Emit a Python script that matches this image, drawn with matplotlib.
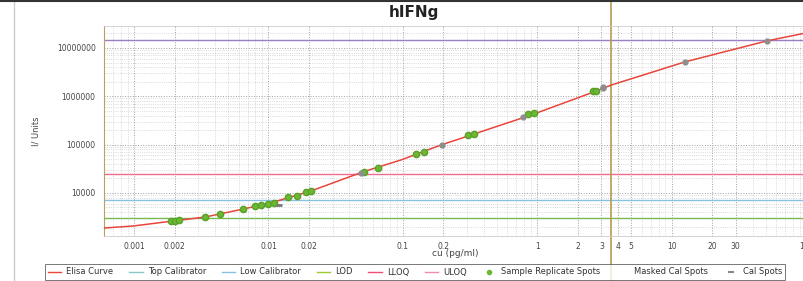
import matplotlib
matplotlib.use('Agg')
import matplotlib.pyplot as plt
from matplotlib.lines import Line2D

# fitted elisa curve
curve_x = [0.000597, 0.000984, 0.00195, 0.00339, 0.0065, 0.01035, 0.0206, 0.0502,
           0.0966, 0.192, 0.322, 0.902, 2.76, 3.56, 12.5, 51.2, 100.0]
curve_y = [1875, 2065, 2620, 3170, 4640, 6180, 10900, 27100,
           48000, 98000, 158000, 410000, 1290000, 1710000, 5130000, 14000000, 20500000]

# sample replicate spots
sample_x = [0.00187, 0.0020, 0.00216, 0.00339, 0.00437, 0.0065, 0.0080, 0.0088, 0.0099, 0.0110,
            0.0139, 0.0163, 0.0190, 0.0206, 0.051, 0.065, 0.125, 0.143, 0.305, 0.339,
            0.857, 0.95, 2.62, 2.76]
sample_y = [2600, 2650, 2750, 3170, 3660, 4640, 5360, 5700, 5900, 6100,
            8200, 8600, 10600, 10900, 27000, 32800, 63800, 70300, 158000, 162000,
            431000, 450000, 1290000, 1300000]

# calibrator spots
cal_x = [0.0486, 0.195, 0.786, 3.11, 3.11, 12.5, 51.2]
cal_y = [25800, 98000, 372000, 1560000, 1450000, 5130000, 14000000]
masked_x = [0.0119]
masked_y = [5600]

# horizontal limits
uloq = 14500000
lloq = 24600
low_cal = 7130
lod = 3020
marker_x = 3.56

xticks = [0.001, 0.002, 0.01, 0.02, 0.1, 0.2, 1, 2, 3, 4, 5, 10, 20, 30, 100]
xtick_labels = ['0.001', '0.002', '0.01', '0.02', '0.1', '0.2', '1', '2', '3', '4', '5',
                '10', '20', '30', '100']
yticks = [10000, 100000, 1000000, 10000000]
ytick_labels = ['10000', '100000', '1000000', '10000000']

fig = plt.figure(figsize=(8.04, 2.81), dpi=100)
ax = fig.add_axes([104 / 804, 45 / 281, 702 / 804, 210 / 281])
ax.set_xscale('log')
ax.set_yscale('log')
ax.set_xlim(0.000597, 100.0)
ax.set_ylim(1282, 2.85e7)

ax.grid(which='major', linestyle=':', color='#a0a0a0', linewidth=0.7)
ax.grid(which='minor', linestyle=':', color='#cdcdcd', linewidth=0.6)

ax.axhline(uloq, color='#9a7fc4', lw=1)
ax.axhline(lloq, color='#ee6a8e', lw=1)
ax.axhline(low_cal, color='#86c3e2', lw=1)
ax.axhline(lod, color='#78b84e', lw=1)
ax.axvline(ax.get_xlim()[0], color='#b8a060', lw=1.2)
ax.axvline(marker_x, ymin=-0.22, ymax=1.13, color='#b89a50', lw=1.2, clip_on=False)

ax.plot(curve_x, curve_y, color='#e8453c', lw=1.1, zorder=3)
ax.plot(sample_x, sample_y, 'o', color='#6cb834', mec='#58a028', ms=4.5, zorder=4)
ax.plot(cal_x, cal_y, 'o', color='#8e8e8e', ms=3.5, zorder=5)
ax.plot(masked_x, masked_y, '_', color='#777777', ms=5, mew=2, zorder=5)

ax.set_xticks(xticks)
ax.set_xticklabels(xtick_labels)
ax.set_yticks(yticks)
ax.set_yticklabels(ytick_labels)
ax.minorticks_on()
ax.tick_params(which='both', length=0, labelsize=5.5, colors='#444444', pad=4)
ax.tick_params(axis='y', pad=6)
ax.tick_params(axis='x', which='minor', labelbottom=False)
ax.tick_params(axis='y', which='minor', labelleft=False)
ax.set_xlabel('cu (pg/ml)', fontsize=6.5, color='#444444', labelpad=-1)
ax.set_ylabel('I/ Units', fontsize=6, color='#444444', labelpad=12)

for side in ['top', 'right', 'bottom']:
    ax.spines[side].set_color('#cccccc')
    ax.spines[side].set_linewidth(0.6)
ax.spines['left'].set_color('#b8a060')

fig.text(414 / 804, 1 - 12 / 281, 'hIFNg', ha='center', va='center',
         fontsize=11, fontweight='bold', color='#222222')

# frame bits of the screenshot
fig.add_artist(Line2D([14 / 804, 14 / 804], [0, 1], transform=fig.transFigure,
                      color='#cccccc', lw=1))
fig.add_artist(Line2D([0, 1], [0.997, 0.997], transform=fig.transFigure,
                      color='#333333', lw=1.5))

handles = [
    Line2D([], [], color='#e8453c', lw=1),
    Line2D([], [], color='#8cc6c6', lw=1),
    Line2D([], [], color='#86c3e2', lw=1),
    Line2D([], [], color='#9acd32', lw=1),
    Line2D([], [], color='#ee4f7a', lw=1),
    Line2D([], [], color='#f08aa8', lw=1),
    Line2D([], [], ls='none', marker='o', color='#6cb834', ms=3),
    Line2D([], [], ls='none', marker='none'),
    Line2D([], [], ls='none', marker='_', color='#888888', ms=4, mew=1.5),
]
labels = ['Elisa Curve', 'Top Calibrator', 'Low Calibrator', 'LOD', 'LLOQ', 'ULOQ',
          'Sample Replicate Spots', 'Masked Cal Spots', 'Cal Spots']
leg = fig.legend(handles, labels, loc='center', bbox_to_anchor=(415 / 804, 1 - 272 / 281),
                 ncol=9, fontsize=6, frameon=True, fancybox=False, edgecolor='#555555',
                 handlelength=1.6, handletextpad=0.6, columnspacing=1.9,
                 borderpad=0.4, labelcolor='#333333')
leg.get_frame().set_linewidth(0.7)

fig.savefig('out.png', dpi=100)
